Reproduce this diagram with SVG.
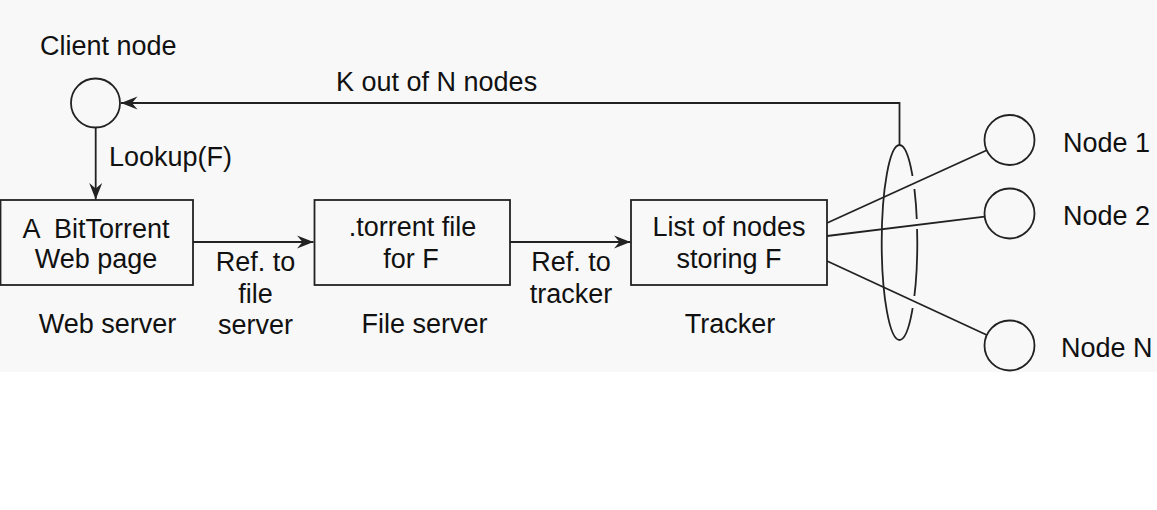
<svg xmlns="http://www.w3.org/2000/svg" width="1157" height="510" viewBox="0 0 1157 510">
<style>
text{font-family:"Liberation Sans",Arial,Helvetica,sans-serif;font-size:27px;fill:#111}
.m{text-anchor:middle}
.s{fill:none;stroke:#222;stroke-width:1.8}
.box{fill:#f8f8f8;stroke:#222;stroke-width:1.8}
.node{fill:#f8f8f8;stroke:#222;stroke-width:1.8}
</style>
<defs>
<marker id="ah" viewBox="-17 -7 18 14" refX="0" refY="0" markerWidth="18" markerHeight="14" markerUnits="userSpaceOnUse" orient="auto">
<path d="M0,0 L-16.5,-6.5 L-11,0 L-16.5,6.5 Z" fill="#222"/>
</marker>
<mask id="gaps" maskUnits="userSpaceOnUse" x="0" y="0" width="1157" height="510">
<rect x="0" y="0" width="1157" height="510" fill="#fff"/>
<rect x="905" y="176" width="20" height="13" fill="#000"/>
<rect x="905" y="219" width="20" height="10" fill="#000"/>
<rect x="905" y="296" width="20" height="12" fill="#000"/>
</mask>
</defs>
<rect x="0" y="0" width="1157" height="510" fill="#fff"/>
<rect x="0" y="0" width="1157" height="372" fill="#f8f8f8"/>

<g id="connectors">
<polyline class="s" points="899.5,145 899.5,103 121,103" marker-end="url(#ah)"/>
<line class="s" x1="95.7" y1="128" x2="95.7" y2="199.5" marker-end="url(#ah)"/>
<line class="s" x1="193" y1="242" x2="313.5" y2="242" marker-end="url(#ah)"/>
<line class="s" x1="510" y1="242" x2="630.5" y2="242" marker-end="url(#ah)"/>
<line class="s" x1="827" y1="223" x2="986.7" y2="150.3"/>
<line class="s" x1="827" y1="236" x2="984.7" y2="216.6"/>
<line class="s" x1="827" y1="261" x2="986.8" y2="335"/>
<ellipse class="s" cx="899.5" cy="242.5" rx="17.8" ry="97.5" mask="url(#gaps)"/>
<text x="336" y="91">K out of N nodes</text>
<text x="109" y="166">Lookup(F)</text>
<text class="m" x="255.5" y="270.5">Ref. to</text>
<text class="m" x="255.5" y="302.5">file</text>
<text class="m" x="255.5" y="334">server</text>
<text class="m" x="571" y="270.5">Ref. to</text>
<text class="m" x="571" y="302.5">tracker</text>
</g>

<g id="client-node">
<circle class="node" cx="95.5" cy="103" r="24.5"/>
<text x="40" y="55">Client node</text>
</g>

<g id="web-server">
<rect class="box" x="0.5" y="200" width="192.5" height="85"/>
<text class="m" x="96" y="237.5" xml:space="preserve">A  BitTorrent</text>
<text class="m" x="96" y="267.5">Web page</text>
<text class="m" x="107.5" y="333">Web server</text>
</g>

<g id="file-server">
<rect class="box" x="314.5" y="200" width="195.5" height="85"/>
<text class="m" x="412.5" y="236">.torrent file</text>
<text class="m" x="411" y="268">for F</text>
<text class="m" x="424.5" y="333">File server</text>
</g>

<g id="tracker">
<rect class="box" x="631" y="200" width="196" height="85"/>
<text class="m" x="729" y="236">List of nodes</text>
<text class="m" x="729" y="268">storing F</text>
<text class="m" x="730" y="333">Tracker</text>
</g>

<g id="node-1">
<circle class="node" cx="1009.5" cy="140" r="25"/>
<text x="1063" y="152">Node 1</text>
</g>
<g id="node-2">
<circle class="node" cx="1009.5" cy="213.5" r="25"/>
<text x="1063" y="225">Node 2</text>
</g>
<g id="node-n">
<circle class="node" cx="1009.5" cy="345.5" r="25"/>
<text x="1061" y="357">Node N</text>
</g>
</svg>
